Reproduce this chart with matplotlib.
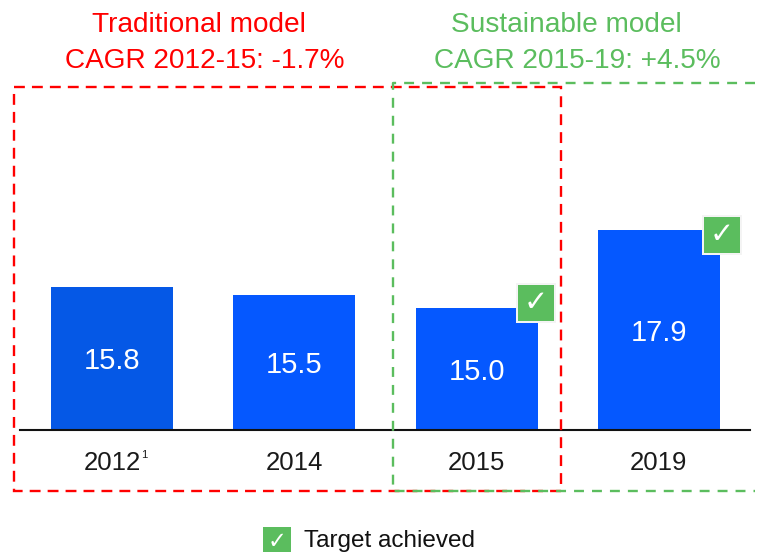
import matplotlib
matplotlib.use('Agg')
import matplotlib.pyplot as plt
from matplotlib.patches import Rectangle

plt.rcParams['font.family'] = ['Liberation Sans', 'DejaVu Sans']

# data
years = ['2012', '2014', '2015', '2019']
values = [15.8, 15.5, 15.0, 17.9]
value_labels = ['15.8', '15.5', '15.0', '17.9']

RED = '#ff0000'
GREEN = '#5bbd5e'
BLUE = '#0558ff'
W, H = 761, 552

fig = plt.figure(figsize=(W / 100, H / 100), dpi=100)

# bar axes, baseline at pixel y=430
ax = fig.add_axes([20 / W, (H - 430) / H, 730 / W, 280 / H])
colors = ['#0558e6', BLUE, BLUE, BLUE]
bars = ax.bar(range(4), values, width=0.669, color=colors)
ax.set_xlim(-0.505, 3.5)
ax.set_ylim(10.5, 20.87)
ax.set_yticks([])
ax.set_xticks(range(4))
ax.set_xticklabels(years, fontsize=18.5, color='#1a1a1a')
ax.tick_params(axis='x', length=0, pad=15)
for s in ['top', 'left', 'right']:
    ax.spines[s].set_visible(False)
ax.spines['bottom'].set_linewidth(1.5)
ax.spines['bottom'].set_color('#111111')
ax.patch.set_alpha(0)

for b, lab in zip(bars, value_labels):
    ax.text(b.get_x() + b.get_width() / 2, (b.get_height() + 10.5) / 2 - 0.1, lab,
            color='white', fontsize=21, ha='center', va='center')

# overlay in pixel coordinates for the boxes and annotations
ov = fig.add_axes([0, 0, 1, 1])
ov.set_xlim(0, W)
ov.set_ylim(H, 0)
ov.axis('off')
ov.patch.set_alpha(0)

ov.plot([755, 393, 393, 755], [83, 83, 491, 491], color=GREEN, lw=1.7, ls=(0, (4.2, 3.4)))
ov.add_patch(Rectangle((14, 87), 547, 404, fill=False, ec=RED, lw=1.7, ls=(0, (4.6, 3.0))))


def check_box(x, y, size, border=2):
    ov.add_patch(Rectangle((x - border, y - border), size + 2 * border, size + 2 * border,
                           fc='#f4f4f4', ec='none', zorder=4))
    ov.add_patch(Rectangle((x, y), size, size, fc=GREEN, ec='none', zorder=5))
    ov.text(x + size / 2, y + size / 2, '\u2713', color='white', fontsize=size * 0.58,
            family='DejaVu Sans', ha='center', va='center', zorder=6)


check_box(518, 285, 36)
check_box(704, 217, 36)
check_box(263, 527, 28, border=0)

ov.text(199, 24.5, 'Traditional model', color=RED, fontsize=20.2, ha='center', va='center')
ov.text(205, 60.5, 'CAGR 2012-15: -1.7%', color=RED, fontsize=20.2, ha='center', va='center')
ov.text(566, 24.5, 'Sustainable model', color=GREEN, fontsize=20.2, ha='center', va='center')
ov.text(577, 60.5, 'CAGR 2015-19: +4.5%', color=GREEN, fontsize=20.2, ha='center', va='center')

ov.text(141, 455, '1', color='#1a1a1a', fontsize=8, ha='left', va='center')
ov.text(304, 541, 'Target achieved', color='#111111', fontsize=17.5, ha='left', va='center')

plt.savefig('out.png', dpi=100)
